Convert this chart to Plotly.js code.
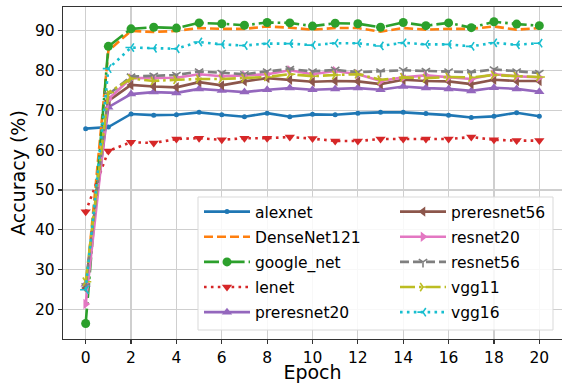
<!DOCTYPE html>
<html><head><meta charset="utf-8">
<script src="https://cdn.plot.ly/plotly-3.0.1.min.js"></script>
<style>html,body{margin:0;padding:0;background:#fff}#chart{width:562px;height:383px}</style>
</head><body><div id="chart"></div>
<script>
const epochs = [0,1,2,3,4,5,6,7,8,9,10,11,12,13,14,15,16,17,18,19,20];
const alexnet     = [65.4,65.8,69.1,68.8,68.9,69.5,68.9,68.4,69.3,68.4,69.0,68.9,69.3,69.5,69.5,69.2,68.8,68.2,68.5,69.4,68.5];
const densenet121 = [24.5,85.0,90.0,89.7,90.0,90.7,90.5,90.5,91.1,90.8,90.3,90.7,90.7,89.8,90.7,90.3,90.5,90.5,91.1,90.3,90.7];
const googleNet   = [16.4,86.1,90.5,90.9,90.7,92.0,91.8,91.4,92.1,92.0,91.2,91.9,91.8,90.9,92.1,91.3,92.0,90.8,92.3,91.7,91.3];
const lenet       = [44.5,59.8,62.0,61.8,62.8,63.0,62.6,63.0,63.0,63.3,62.9,62.3,62.3,62.8,62.8,62.8,62.8,63.3,62.6,62.4,62.4];
const preresnet20 = [26.3,70.8,74.1,74.6,74.4,75.4,75.0,74.6,75.2,75.6,75.2,75.4,75.6,75.2,76.0,75.6,75.4,74.9,75.7,75.4,74.7];
const preresnet56 = [25.3,72.4,76.4,76.0,75.8,77.1,76.3,77.3,78.1,77.7,77.2,77.4,77.3,76.6,77.7,77.4,77.3,76.6,77.7,77.4,77.4];
const resnet20    = [21.3,72.8,78.1,78.1,78.2,79.1,78.6,78.8,79.1,80.1,79.1,79.9,79.1,77.4,78.3,78.8,78.3,77.9,79.1,78.6,78.3];
const resnet56    = [25.8,74.0,78.5,78.7,78.9,79.8,79.4,79.1,79.8,80.4,79.8,80.2,79.6,79.8,80.1,79.9,79.8,79.6,80.3,79.8,79.4];
const vgg11       = [26.9,74.5,78.0,77.4,77.7,77.9,77.9,78.1,78.4,79.1,78.6,78.9,79.1,77.7,78.3,78.1,78.4,78.3,78.9,78.6,78.4];
const vgg16       = [24.9,80.5,85.8,85.6,85.5,87.2,86.6,86.3,86.8,86.8,86.4,86.9,86.9,86.2,87.0,86.6,86.6,86.1,87.0,86.5,86.9];

const names = ['alexnet','DenseNet121','google_net','lenet','preresnet20','preresnet56','resnet20','resnet56','vgg11','vgg16'];
const values = [alexnet,densenet121,googleNet,lenet,preresnet20,preresnet56,resnet20,resnet56,vgg11,vgg16];
const colors = ['#1f77b4','#ff7f0e','#2ca02c','#d62728','#9467bd','#8c564b','#e377c2','#7f7f7f','#bcbd22','#17becf'];
const LW = 2.6;
const DASH = '9px,4px', DASHDOT = '15px,4px,2.6px,4px', DOT = '2.6px,4.3px';
const dashes = ['solid',DASH,DASHDOT,DOT,'solid','solid','solid',DASH,DASHDOT,DOT];
const symbols = ['circle',null,'circle','triangle-down','triangle-up','triangle-left','triangle-right','y-down','y-right','y-left'];
const sizes = [5,0,9,9,9,9,9,7,7,7];

const traces = names.map((n,i)=>{
  const sym = symbols[i];
  const isY = sym && sym.startsWith('y-');
  const t = {
    x: epochs, y: values[i], name: n, type:'scatter',
    mode: sym ? 'lines+markers' : 'lines',
    line: {color: colors[i], width: LW, dash: dashes[i]},
    legend: i < 5 ? 'legend' : 'legend2',
    legendgroup: 'g'+i
  };
  if (sym) t.marker = {symbol: sym, size: sizes[i], color: colors[i],
      line: {color: colors[i], width: isY ? 1.6 : 0}};
  return t;
});

const L=63, R=562, T=7, B=339;
const px = v => (v-L)/(R-L);
const py = v => (B-v)/(B-T);
const FONT = 'DejaVu Sans, Verdana, sans-serif';

const legendCommon = {
  bgcolor:'rgba(0,0,0,0)', borderwidth:0,
  font:{family:FONT, size:15.5, color:'#000'},
  xanchor:'left', yanchor:'top', tracegroupgap:2, itemwidth:46, traceorder:'grouped'
};

const layout = {
  width:562, height:383,
  margin:{l:L, r:562-R, t:T, b:383-B, pad:0},
  paper_bgcolor:'#fff', plot_bgcolor:'#fff',
  font:{family:FONT, color:'#000'},
  showlegend:true,
  xaxis:{
    range:[-1,21], tickmode:'array', tickvals:[0,2,4,6,8,10,12,14,16,18,20],
    showgrid:true, gridcolor:'#cfcfcf', gridwidth:1.2, zeroline:false,
    showline:true, linecolor:'#333', linewidth:1.2, mirror:true,
    ticks:'outside', ticklen:4, tickcolor:'#333', tickwidth:1.2,
    tickfont:{family:FONT, size:15.5, color:'#000'},
    title:{text:'Epoch', font:{family:FONT, size:19, color:'#000'}, standoff:6}
  },
  yaxis:{
    range:[12.5,96], tickmode:'array', tickvals:[20,30,40,50,60,70,80,90],
    showgrid:true, gridcolor:'#cfcfcf', gridwidth:1.2, zeroline:false,
    showline:true, linecolor:'#333', linewidth:1.2,
    ticks:'outside', ticklen:4, tickcolor:'#333', tickwidth:1.2,
    tickfont:{family:FONT, size:15.5, color:'#000'},
    title:{text:'Accuracy (%)', font:{family:FONT, size:19, color:'#000'}, standoff:4}
  },
  legend: Object.assign({}, legendCommon, {x:px(199), y:py(195)}),
  legend2: Object.assign({}, legendCommon, {x:px(395), y:py(195)}),
  shapes:[{
    type:'rect', xref:'paper', yref:'paper', layer:'above',
    x0:px(198), x1:px(553), y0:py(330), y1:py(197),
    fillcolor:'rgba(255,255,255,0.85)', line:{color:'#d9d9d9', width:1}
  }]
};

Plotly.newPlot('chart', traces, layout, {displayModeBar:false, staticPlot:true});
</script></body></html>
